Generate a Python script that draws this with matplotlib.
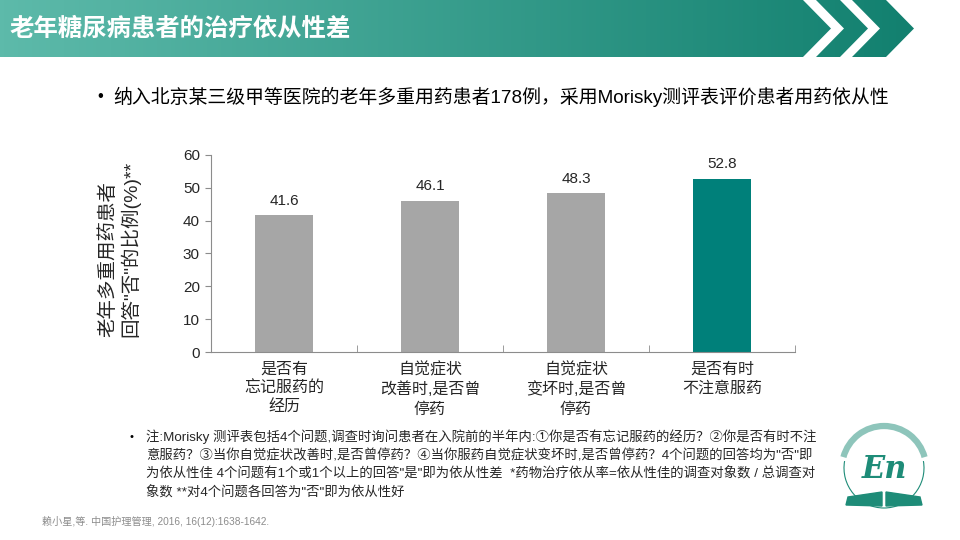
import numpy as np
import matplotlib
matplotlib.use("Agg")
import matplotlib.pyplot as plt
from matplotlib.patches import Polygon, Arc

plt.rcParams["font.family"] = ["Liberation Sans", "Noto Sans CJK SC", "DejaVu Sans"]

# data
categories = ["是否有\n忘记服药的\n经历", "自觉症状\n改善时,是否曾\n停药",
              "自觉症状\n变坏时,是否曾\n停药", "是否有时\n不注意服药"]
values = [41.6, 46.1, 48.3, 52.8]
bar_colors = ["#A6A6A6", "#A6A6A6", "#A6A6A6", "#00807A"]
yticks = [0, 10, 20, 30, 40, 50, 60]

title = "老年糖尿病患者的治疗依从性差"
bullet = "纳入北京某三级甲等医院的老年多重用药患者178例，采用Morisky测评表评价患者用药依从性"
note_lines = [
    "注:Morisky 测评表包括4个问题,调查时询问患者在入院前的半年内:①你是否有忘记服药的经历？②你是否有时不注",
    "意服药？③当你自觉症状改善时,是否曾停药？④当你服药自觉症状变坏时,是否曾停药？4个问题的回答均为\"否\"即",
    "为依从性佳 4个问题有1个或1个以上的回答\"是\"即为依从性差  *药物治疗依从率=依从性佳的调查对象数 / 总调查对",
    "象数 **对4个问题各回答为\"否\"即为依从性好",
]
citation = "赖小星,等. 中国护理管理, 2016, 16(12):1638-1642."

fig = plt.figure(figsize=(9.6, 5.4), dpi=100)

# background layer in pixel coords
bg = fig.add_axes([0, 0, 1, 1])
bg.set_xlim(0, 960)
bg.set_ylim(540, 0)
bg.axis("off")

# title banner with gradient and chevrons
grad = np.linspace(0, 1, 256).reshape(1, -1)
cmap = matplotlib.colors.LinearSegmentedColormap.from_list("t", ["#5DBAAA", "#12806F"])
H = 57
shapes = [
    [(0, 0), (803, 0), (831, H / 2), (803, H), (0, H)],
    [(816, 0), (840, 0), (868, H / 2), (840, H), (816, H), (844, H / 2)],
    [(852, 0), (886, 0), (914, H / 2), (886, H), (852, H), (880, H / 2)],
]
for pts in shapes:
    poly = Polygon(pts, closed=True, facecolor="none", edgecolor="none")
    bg.add_patch(poly)
    im = bg.imshow(grad, cmap=cmap, extent=(0, 914, H, 0), aspect="auto", zorder=1)
    im.set_clip_path(poly)
bg.text(10, 29, title, color="white", fontsize=17.6, fontweight="bold",
        va="center", ha="left", family=["Noto Sans CJK SC"], zorder=3)

# bullet line
bg.text(97, 97, "•", fontsize=12, va="center", ha="left")
bg.text(113, 97, bullet, fontsize=13.6, va="center", ha="left")

# note
bg.text(130, 437, "•", fontsize=8, va="center", ha="left")
for i, line in enumerate(note_lines):
    bg.text(146, 437 + i * 18.5, line, fontsize=9.6, va="center", ha="left", color="#262626")

bg.text(42, 521, citation, fontsize=7.3, va="center", ha="left", color="#8C8C8C")

# logo (approximate)
teal = "#1E8C78"
bg.add_patch(Arc((884, 468), 80, 80, theta1=-10, theta2=190, color=teal, lw=0.8, zorder=1))
bg.add_patch(Arc((884, 468), 84, 84, theta1=195, theta2=345, color=teal, lw=4.5, alpha=0.5))
bg.text(884, 470, "En", fontsize=22, color=teal, ha="center", va="center",
        family=["DejaVu Serif"], style="italic", fontweight="bold")
bg.add_patch(Polygon([(848, 497), (882, 492), (882, 506), (846, 505)], color=teal, zorder=2))
bg.add_patch(Polygon([(886, 492), (920, 497), (922, 505), (886, 506)], color=teal, zorder=2))

# chart
ax = fig.add_axes([211 / 960, (540 - 352) / 540, 584 / 960, 197 / 540])
x = np.arange(len(values))
bars = ax.bar(x, values, width=0.4, color=bar_colors, zorder=2)
for xi, v in zip(x, values):
    ax.text(xi, v + 2.2, f"{v:.1f}", ha="center", va="bottom", fontsize=11, color="#262626")

ax.set_xlim(-0.5, len(values) - 0.5)
ax.set_ylim(0, 60)
ax.set_yticks(yticks)
ax.tick_params(axis="y", labelsize=11, length=4, color="#8C8C8C", labelcolor="#262626", pad=4)
ax.set_xticks(x)
ax.set_xticklabels(categories, fontsize=11.5, linespacing=1.35, color="#262626")
ax.tick_params(axis="x", length=0, pad=7)
ax.set_xticks(np.arange(-0.5, len(values)), minor=True)
ax.tick_params(axis="x", which="minor", direction="in", length=5, color="#8C8C8C")
for s in ["top", "right"]:
    ax.spines[s].set_visible(False)
for s in ["left", "bottom"]:
    ax.spines[s].set_color("#8C8C8C")
    ax.spines[s].set_linewidth(0.8)

# y label, two rotated lines aligned at the bottom
bg.text(108, 337, "老年多重用药患者", rotation=90, fontsize=14, ha="center", va="bottom",
        family=["Noto Sans CJK SC"], color="#262626")
bg.text(130, 337, "回答\"否\"的比例(%)**", rotation=90, fontsize=14, ha="center", va="bottom",
        color="#262626")

fig.savefig("out.png", dpi=100)
